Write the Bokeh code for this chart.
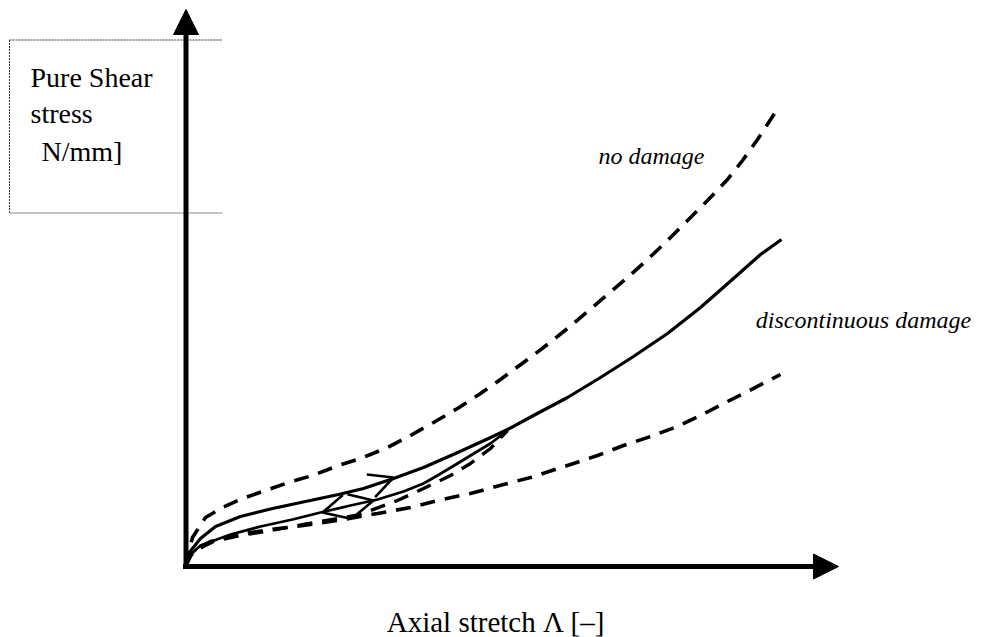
from bokeh.plotting import figure
from bokeh.models import Range1d, Arrow, NormalHead, OpenHead, Label, ColumnDataSource
from bokeh.embed import file_html
from bokeh.resources import INLINE

# ---------------- data (schematic units, origin at axes crossing) ----------------
# "no damage" curve (upper dashed)
no_damage_x = [0, 2, 7, 20, 37, 57, 80, 103, 127, 153, 175, 202, 225, 248, 272, 295, 315,
               338, 358, 382, 402, 422, 442, 462, 482, 502, 522, 542, 557, 572, 593]
no_damage_y = [0, 11, 29, 49, 59, 68, 76, 84, 91, 101, 108, 119, 131, 144, 158, 173, 187,
               204, 219, 238, 255, 272, 289, 307, 326, 346, 366, 387, 406, 427, 459]

# "discontinuous damage" virgin loading curve (solid)
disc_x = [0, 3, 15, 30, 55, 87, 120, 153, 178, 208, 238, 270, 303, 322, 348, 382, 415,
          448, 482, 515, 548, 575, 596]
disc_y = [0, 13, 28, 40, 50, 58, 65, 72, 78, 88, 99, 113, 128, 137, 151, 169, 189,
          210, 233, 259, 288, 312, 327]

# unloading / reloading path (solid, thinner)
unload_x = [0, 2, 15, 45, 75, 107, 135, 165, 192, 218, 238, 252, 272, 290, 305, 322]
unload_y = [0, 9, 21, 32, 40, 47, 54, 61, 67, 75, 83, 91, 103, 114, 123, 136]

# reloading path (dashed)
reload_x = [0, 7, 20, 28, 55, 85, 118, 152, 170, 185, 212, 238, 265, 285, 305, 322]
reload_y = [0, 14, 21, 25, 31, 36, 42, 48, 51, 56, 66, 78, 91, 103, 118, 136]

# lower dashed curve
lower_x = [0, 5, 15, 25, 52, 85, 118, 152, 192, 225, 252, 285, 318, 345, 388, 412, 438,
           465, 492, 515, 538, 562, 595]
lower_y = [0, 11, 20, 25, 32, 37, 41, 46, 53, 59, 66, 73, 82, 89, 103, 111, 121,
           130, 140, 151, 163, 175, 192]

# direction arrows on the curves (from a point behind to the tip)
arrow_x_start = [178, 165, 158]
arrow_y_start = [78, 61, 59]
arrow_x_end = [208, 137, 188]
arrow_y_end = [89, 54, 66]

# texts
y_label_lines = ["Pure Shear", "stress", "N/mm]"]
x_label = "Axial stretch  Λ [–]"
label_no_damage = "no damage"
label_disc = "discontinuous damage"

# ---------------- layout ----------------
W, H = 983, 637
OX, OY = 185, 566          # picture position of the axes crossing


def X(px):
    return px - OX


def Y(py):
    return OY - py


p = figure(width=W, height=H,
           x_range=Range1d(X(0), X(W)), y_range=Range1d(Y(H), Y(0)),
           output_backend="svg", toolbar_location=None,
           x_axis_type=None, y_axis_type=None, min_border=0)
p.outline_line_color = None
p.background_fill_color = "white"
p.border_fill_color = "white"

# label box (dotted top/left, grey bottom)
p.line([X(9), X(222)], [Y(39.5), Y(39.5)], line_color="#333333", line_width=1, line_dash="2 1")
p.line([X(9), X(9)], [Y(39.5), Y(212.5)], line_color="#333333", line_width=1, line_dash="2 1")
p.line([X(9), X(222)], [Y(212.5), Y(212.5)], line_color="#8a8a8a", line_width=1)

# curves
p.line(lower_x, lower_y, line_color="black", line_width=3.6, line_dash="15 10")
p.line(reload_x, reload_y, line_color="black", line_width=3.4, line_dash="15 10")
p.line(no_damage_x, no_damage_y, line_color="black", line_width=3.6, line_dash="15 10")
p.line(unload_x, unload_y, line_color="black", line_width=2.8, line_join="round")
p.line(disc_x, disc_y, line_color="black", line_width=3.2, line_join="round")

# curve arrows
arr_src = ColumnDataSource(dict(xs=arrow_x_start, ys=arrow_y_start, xe=arrow_x_end, ye=arrow_y_end))
p.add_layout(Arrow(end=OpenHead(size=24, line_width=2.6, line_color="black"),
                   x_start="xs", y_start="ys", x_end="xe", y_end="ye",
                   source=arr_src, line_alpha=0))

# axes with arrow heads
p.add_layout(Arrow(end=NormalHead(size=25, fill_color="black", line_color="black", line_width=1),
                   x_start=0.5, y_start=-2.5, x_end=0.5, y_end=Y(9),
                   line_width=5, line_color="black"))
p.add_layout(Arrow(end=NormalHead(size=25, fill_color="black", line_color="black", line_width=1),
                   x_start=-2.5, y_start=0, x_end=X(838), y_end=0,
                   line_width=5, line_color="black"))

FONT = "Liberation Serif"

# y-axis label lines
for txt, lx, ly in zip(y_label_lines, [30, 30, 41], [77, 113, 151]):
    p.add_layout(Label(x=X(lx), y=Y(ly), text=txt, text_font=FONT, text_font_size="28px",
                       text_color="black", text_baseline="alphabetic", text_align="left"))

# x-axis label
p.add_layout(Label(x=X(499), y=Y(621), text=x_label, text_font=FONT, text_font_size="29px",
                   text_color="black", text_baseline="alphabetic", text_align="center"))

# curve labels
p.add_layout(Label(x=X(651), y=Y(155), text=label_no_damage, text_font=FONT,
                   text_font_size="24px", text_font_style="italic", text_color="black",
                   text_baseline="alphabetic", text_align="center"))
p.add_layout(Label(x=X(863), y=Y(319), text=label_disc, text_font=FONT,
                   text_font_size="24px", text_font_style="italic", text_color="black",
                   text_baseline="alphabetic", text_align="center"))

open("out.html", "w").write(file_html(p, INLINE))
